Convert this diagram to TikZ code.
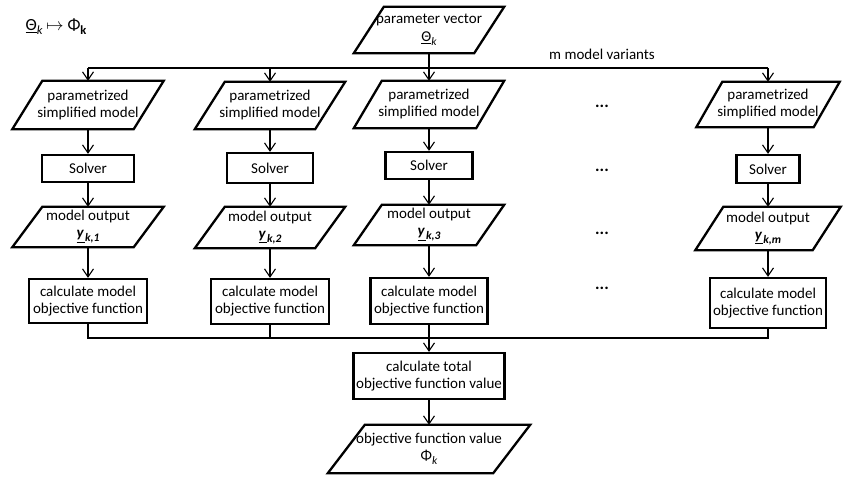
\documentclass[tikz,border=0pt]{standalone}
\usepackage{fontspec}
\setmainfont{Carlito}
\usetikzlibrary{arrows.meta}
\newcommand\mypara[7]{% name, x, y, total width, height, slant, text
  \node[minimum width=#4pt-#6pt, minimum height=#5pt] (#1) at (#2,#3) {#7};
  \draw[boxline] ([xshift=#6pt/2]#1.north west) -- ([xshift=#6pt/2]#1.north east)
    -- ([xshift=-#6pt/2]#1.south east) -- ([xshift=-#6pt/2]#1.south west) -- cycle;}
\newcommand\ysub[1]{\underline{\textbf{\textit{y}}\hspace{1pt}}\raisebox{-0.55ex}{\fontsize{11.5}{11.5}\selectfont\textbf{\textit{#1}}}}
\begin{document}
\begin{tikzpicture}[x=1pt,y=-1pt,
  every node/.style={font=\fontsize{15}{17}\selectfont, align=center, inner sep=0pt},
  boxline/.style={line width=2.3pt, line join=miter},
  rbox/.style={draw, boxline, minimum width=#1},
  conn/.style={line width=1.1pt},
  arr/.style={conn,-{Straight Barb[length=8pt,width=11pt,line width=1.1pt]}},
  dots/.style={font=\fontsize{17}{17}\selectfont\bfseries}]
\useasboundingbox (0,0) rectangle (845,476);

% title label
\node (lbl) at (56,27) {\fontsize{17}{17}\selectfont\underline{Θ}\raisebox{-0.5ex}{\fontsize{12.5}{12.5}\selectfont\textit{k}} $\mapsto$ Φ\raisebox{-0.5ex}{\fontsize{12.5}{12.5}\selectfont\textbf{k}}};

% parameter vector
\mypara{pv}{429}{30}{150}{46}{30}{parameter vector\\[1pt]\underline{Θ}\raisebox{-0.5ex}{\fontsize{11.5}{11.5}\selectfont\textit{k}}}
\node (mv) at (602,54) {m model variants};

% column 1
\mypara{p1}{88}{105}{151}{48}{30}{parametrized\\simplified model}
\node[rbox=92pt, minimum height=27pt] (s1) at (88,168.5) {Solver};
\mypara{o1}{88}{227}{151}{40}{30}{model output\\\ysub{k,1}}
\node[rbox=118pt, minimum height=44pt] (k1) at (88,301) {calculate model\\objective function};

% column 2
\mypara{p2}{270}{105.5}{150}{47}{30}{parametrized\\simplified model}
\node[rbox=86pt, minimum height=30pt] (s2) at (270,168) {Solver};
\mypara{o2}{270}{227.5}{150}{41}{30}{model output\\\ysub{k,2}}
\node[rbox=118pt, minimum height=45pt] (k2) at (270,301.5) {calculate model\\objective function};

% column 3
\mypara{p3}{429}{104.5}{150}{47}{28}{parametrized\\simplified model}
\node[rbox=87pt, minimum height=27pt] (s3) at (429,165.5) {Solver};
\mypara{o3}{429}{225}{150}{40}{28}{model output\\\ysub{k,3}}
\node[rbox=117pt, minimum height=46pt] (k3) at (429,301) {calculate model\\objective function};

% column m
\mypara{p5}{768}{104.5}{143}{45}{26}{parametrized\\simplified model}
\node[rbox=63pt, minimum height=28pt] (s5) at (768,169) {Solver};
\mypara{o5}{768}{228.5}{145}{43}{28}{model output\\\ysub{k,m}}
\node[rbox=116pt, minimum height=50pt] (k5) at (768,303) {calculate model\\objective function};

% dots
\node[dots] (d1) at (602,106) {...};
\node[dots] (d2) at (602,170) {...};
\node[dots] (d3) at (602,233) {...};
\node[dots] (d4) at (602,288) {...};

% total
\node[rbox=151pt, minimum height=46pt] (tot) at (429,376) {calculate total\\objective function value};
\mypara{fin}{429}{449}{202}{48}{37}{objective function value\\Φ\raisebox{-0.5ex}{\fontsize{11.5}{11.5}\selectfont\textit{k}}}

% distribution line
\coordinate (top) at (429,68);
\draw[conn] (p1.north |- top) -- (p5.north |- top);
\draw[arr] (pv.south) -- (p3.north);
\draw[arr] (p1.north |- top) -- (p1.north);
\draw[arr] (p2.north |- top) -- (p2.north);
\draw[arr] (p5.north |- top) -- (p5.north);

% column arrows
\foreach \c in {1,2,3,5}{
  \draw[arr] (p\c.south) -- (s\c.north);
  \draw[arr] (s\c.south) -- (o\c.north);
  \draw[arr] (o\c.south) -- (k\c.north);
}

% collecting line
\coordinate (bot) at (429,338);
\draw[conn] (k1.south) -- (k1.south |- bot) -- (k5.south |- bot) -- (k5.south);
\draw[conn] (k2.south) -- (k2.south |- bot);
\draw[arr] (k3.south) -- (tot.north);
\draw[arr] (tot.south) -- (fin.north);
\end{tikzpicture}
\end{document}
